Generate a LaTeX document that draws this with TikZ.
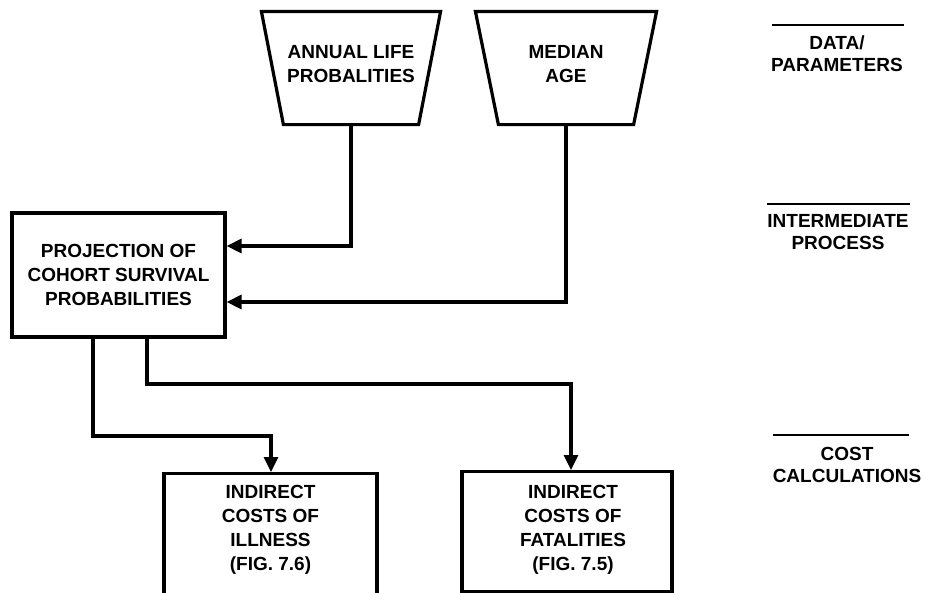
\documentclass[tikz,border=0pt]{standalone}
\usepackage{fontspec}
\setmainfont{Liberation Sans}
\usetikzlibrary{arrows.meta}

\tikzset{
  boxfont/.style={font=\bfseries\fontsize{19}{24}\selectfont, align=center},
  labfont/.style={font=\bfseries\fontsize{19}{22}\selectfont, align=center},
  frame/.style={rectangle, inner sep=0pt, outer sep=1.6pt},
  outline/.style={draw, line width=3.2pt, line join=miter},
  box/.style={draw, line width=3.2pt, rectangle, inner sep=0pt, boxfont},
  txt/.style={inner sep=0pt, boxfont},
  arr/.style={line width=3.2pt, -{Triangle[length=15pt,width=14pt]}},
  rule/.style={line width=2.8pt},
}

\begin{document}
\begin{tikzpicture}[x=1pt,y=-1pt]
\useasboundingbox (0,0) rectangle (926,592);

% data / parameter inputs (inverted trapezia)
\node[frame, minimum width=176, minimum height=110] (alp) at (351,68) {};
\draw[outline] (alp.north west) -- (alp.north east)
  -- ([xshift=-22pt]alp.south east) -- ([xshift=22pt]alp.south west) -- cycle;
\node[txt] (alptxt) at (351,64) {ANNUAL LIFE\\PROBALITIES};

\node[frame, minimum width=178, minimum height=110] (med) at (566,68) {};
\draw[outline] (med.north west) -- (med.north east)
  -- ([xshift=-23pt]med.south east) -- ([xshift=23pt]med.south west) -- cycle;
\node[txt] (medtxt) at (566,64) {MEDIAN\\AGE};

% intermediate process
\node[box, minimum width=213, minimum height=124] (proj) at (118.5,275)
  {PROJECTION OF\\COHORT SURVIVAL\\PROBABILITIES};

% cost calculations
\node[box, minimum width=213, minimum height=132, anchor=north] (ill) at (270.5,472) {};
\node[txt] (illtxt) at (270.5,530) {INDIRECT\\COSTS OF\\ILLNESS\\(FIG. 7.6)};
\node[box, minimum width=210, minimum height=120, anchor=north] (fat) at (567,470) {};
\node[txt] (fattxt) at (573,530) {INDIRECT\\COSTS OF\\FATALITIES\\(FIG. 7.5)};

% routing points
\coordinate (in1) at (0,246);
\coordinate (in2) at (0,302);
\coordinate (o1) at (93,0);
\coordinate (o2) at (147,0);
\coordinate (h1) at (271,436);
\coordinate (h2) at (571,384);

% connectors
\draw[arr] (alp.south) |- (proj.east |- in1);
\draw[arr] (med.south) |- (proj.east |- in2);
\draw[arr] (proj.south -| o1) |- (h1) -- (h1 |- ill.north);
\draw[arr] (proj.south -| o2) |- (h2) -- (h2 |- fat.north);

% level headings
\draw[rule] (772,25) -- (904,25);
\node[labfont] (lab1) at (837,54) {DATA/\\PARAMETERS};
\draw[rule] (767,204) -- (910,204);
\node[labfont] (lab2) at (838,232) {INTERMEDIATE\\PROCESS};
\draw[rule] (773,435) -- (909,435);
\node[labfont] (lab3) at (847,465) {COST\\CALCULATIONS};
\end{tikzpicture}
\end{document}
